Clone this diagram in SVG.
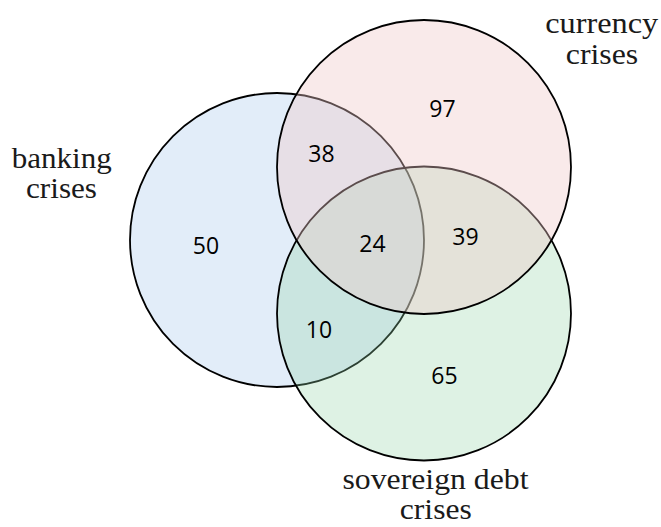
<svg xmlns="http://www.w3.org/2000/svg" width="661" height="527" viewBox="0 0 661 527">
<style>
.set{stroke:#000;stroke-width:1.8}
.num{font-family:"Open Sans","Liberation Sans",sans-serif;font-size:23px;fill:#000;text-anchor:middle}
.lbl{font-family:"Liberation Serif","DejaVu Serif",serif;font-size:29px;fill:#1a1a1a;text-anchor:middle}
</style>
<rect width="661" height="527" fill="#fff"/>
<g id="banking">
<circle class="set" cx="277" cy="240" r="147" fill="#e2edf9"/>
</g>
<g id="sovereign">
<circle class="set" cx="424" cy="313.5" r="147" fill="rgb(145,212,165)" fill-opacity="0.3"/>
</g>
<g id="currency">
<circle class="set" cx="424" cy="167" r="147" fill="rgb(240,200,200)" fill-opacity="0.38"/>
</g>
<g id="connectors"></g>
<g id="counts">
<text class="num" x="442.5" y="117">97</text>
<text class="num" x="321.5" y="162">38</text>
<text class="num" x="206" y="254">50</text>
<text class="num" x="372.5" y="252">24</text>
<text class="num" x="465.5" y="245">39</text>
<text class="num" x="319" y="338">10</text>
<text class="num" x="444.5" y="384">65</text>
</g>
<g id="labels">
<text class="lbl" x="61.7" y="168" textLength="100" lengthAdjust="spacingAndGlyphs">banking</text>
<text class="lbl" x="61.5" y="198" textLength="71" lengthAdjust="spacingAndGlyphs">crises</text>
<text class="lbl" x="601.7" y="33" textLength="113" lengthAdjust="spacingAndGlyphs">currency</text>
<text class="lbl" x="602" y="64" textLength="72.5" lengthAdjust="spacingAndGlyphs">crises</text>
<text class="lbl" x="435.5" y="489" textLength="186" lengthAdjust="spacingAndGlyphs">sovereign debt</text>
<text class="lbl" x="435.8" y="519" textLength="72" lengthAdjust="spacingAndGlyphs">crises</text>
</g>
</svg>
